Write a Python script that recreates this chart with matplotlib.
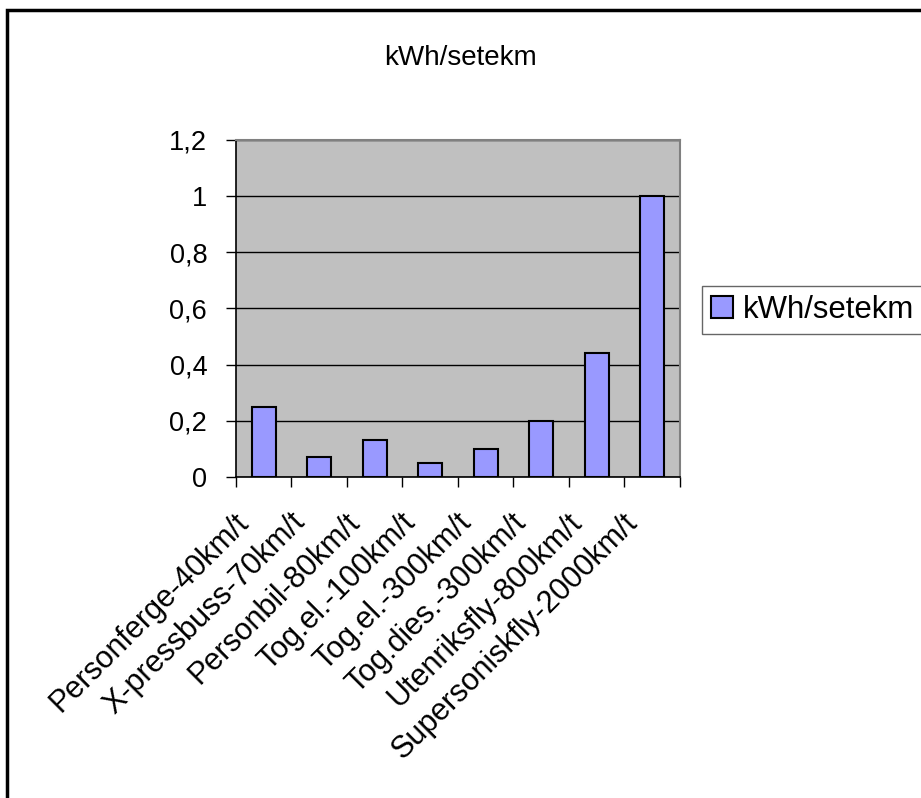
import matplotlib.pyplot as plt
from matplotlib.ticker import FixedLocator, NullFormatter
from matplotlib.patches import Rectangle
from matplotlib.transforms import ScaledTranslation
import numpy as np

plt.rcParams['font.family'] = ['Liberation Sans', 'DejaVu Sans']

categories = ["Personferge-40km/t", "X-pressbuss-70km/t", "Personbil-80km/t",
              "Tog.el.-100km/t", "Tog.el.-300km/t", "Tog.dies.-300km/t",
              "Utenriksfly-800km/t", "Supersoniskfly-2000km/t"]
values = [0.25, 0.07, 0.13, 0.05, 0.10, 0.20, 0.44, 1.0]
yticks = [0, 0.2, 0.4, 0.6, 0.8, 1.0, 1.2]
ytick_labels = ["0", "0,2", "0,4", "0,6", "0,8", "1", "1,2"]
series_name = "kWh/setekm"

fig = plt.figure(figsize=(9.21, 7.98), dpi=100)
ax = fig.add_axes([0.2562, 0.4023, 0.4821, 0.4223])
ax.set_facecolor("#C0C0C0")

x = np.arange(len(categories))
ax.bar(x, values, width=0.44, color="#9999FF", edgecolor="black",
       linewidth=1.5, label=series_name, zorder=3)

ax.set_xlim(-0.5, len(categories) - 0.5)
ax.set_ylim(0, 1.2)

# y axis
ax.set_yticks(yticks)
ax.set_yticklabels(ytick_labels)
ax.yaxis.grid(True, color="black", linewidth=1, zorder=1)
ax.set_axisbelow(True)

# x axis: ticks at category boundaries, rotated labels drawn as text
ax.xaxis.set_major_locator(FixedLocator(np.arange(len(categories) + 1) - 0.5))
ax.xaxis.set_major_formatter(NullFormatter())
ax.tick_params(axis="x", length=7.2, width=1, color="black")
ax.tick_params(axis="y", length=7.2, width=1, color="black", pad=13.5,
               labelsize=19.5)

shift = ScaledTranslation(-19 / 100, -41 / 100, fig.dpi_scale_trans)
for xi, lab in zip(x, categories):
    ax.text(xi, 0, lab, transform=ax.get_xaxis_transform() + shift,
            rotation=45, ha="right", va="center", rotation_mode="anchor",
            fontsize=22)

for side in ["top", "right"]:
    ax.spines[side].set_color("#808080")
    ax.spines[side].set_linewidth(1.5)
for side in ["left", "bottom"]:
    ax.spines[side].set_color("black")
    ax.spines[side].set_linewidth(1.2)

fig.text(0.4995, 1 - 58 / 798, series_name, ha="center", va="center",
         fontsize=20)

leg = ax.legend(loc="center left", bbox_to_anchor=(702 / 921, 1 - 310 / 798),
                bbox_transform=fig.transFigure, fontsize=22.4, frameon=True,
                fancybox=False, borderpad=0.3, handlelength=0.7,
                handleheight=0.7, handletextpad=0.3, borderaxespad=0)
leg.get_frame().set_edgecolor("#404040")
leg.get_frame().set_linewidth(1)

# outer chart border
fig.patches.append(Rectangle((7 / 921, -0.05), 1.1, 1 - 10 / 798 + 0.05,
                             transform=fig.transFigure, fill=False,
                             edgecolor="black", linewidth=2.5))

fig.savefig("out.png", dpi=100)
